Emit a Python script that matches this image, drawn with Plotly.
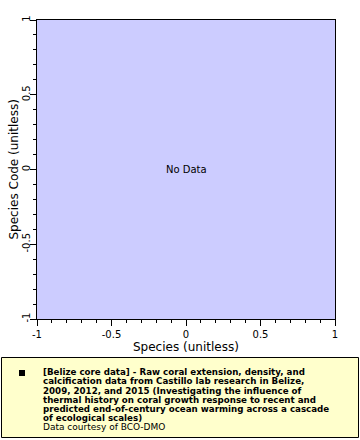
import plotly.graph_objects as go

x_range = [-1, 1]
y_range = [-1, 1]
tick_vals = [-1, -0.5, 0, 0.5, 1]
tick_text = ["-1", "-0.5", "0", "0.5", "1"]
x_title = "Species (unitless)"
y_title = "Species Code (unitless)"
no_data_text = "No Data"
legend_lines = [
    "[Belize core data] - Raw coral extension, density, and",
    "calcification data from Castillo lab research in Belize,",
    "2009, 2012, and 2015 (Investigating the influence of",
    "thermal history on coral growth response to recent and",
    "predicted end-of-century ocean warming across a cascade",
    "of ecological scales)",
]
credit = "Data courtesy of BCO-DMO"

W, H = 360, 440
L, R, T, B = 37, 25, 20, 121
pw, ph = W - L - R, H - T - B

def px(x):
    return (x - L) / pw

def py(y):
    return (H - B - y) / ph

fig = go.Figure()
fig.add_trace(go.Scatter(x=[None], y=[None], mode="markers", showlegend=False, hoverinfo="skip"))

axis_common = dict(
    range=[-1, 1], tickvals=tick_vals, ticktext=tick_text, ticks="outside",
    ticklen=6, tickwidth=1, tickcolor="black", showgrid=False, zeroline=False,
    showline=True, linecolor="black", linewidth=1, mirror=True, automargin=False,
    tickfont=dict(family="DejaVu Sans", size=10, color="black"),
    minor=dict(dtick=0.1, ticks="outside", ticklen=3, tickcolor="black", showgrid=False),
)
fig.update_xaxes(**axis_common)
fig.update_yaxes(**axis_common, tickangle=-90, ticklabelstandoff=-4)

title_font = dict(family="DejaVu Sans", size=12, color="black")
fig.add_annotation(xref="paper", yref="paper", x=px(186), y=py(347), text=x_title,
                   showarrow=False, xanchor="center", yanchor="middle", font=title_font)
fig.add_annotation(xref="paper", yref="paper", x=px(13), y=0.5, text=y_title,
                   showarrow=False, xanchor="center", yanchor="middle", textangle=-90, font=title_font)

fig.add_annotation(x=0, y=0, text=no_data_text, showarrow=False,
                   font=dict(family="DejaVu Sans", size=10, color="black"))

# legend box
fig.add_shape(type="rect", xref="paper", yref="paper",
              x0=px(1.5), x1=px(358.5), y0=py(437.5), y1=py(357.5),
              line=dict(color="black", width=1), fillcolor="#ffffcc", layer="below")
fig.add_shape(type="rect", xref="paper", yref="paper",
              x0=px(19), x1=px(25), y0=py(376), y1=py(370),
              line=dict(color="black", width=0), fillcolor="black")

y0 = 372
for i, line in enumerate(legend_lines):
    fig.add_annotation(xref="paper", yref="paper", x=px(41), y=py(y0 + i * 9.25),
                       text="<b>" + line + "</b>", showarrow=False, xanchor="left", yanchor="middle",
                       font=dict(family="DejaVu Sans", size=8.7, color="black"))
fig.add_annotation(xref="paper", yref="paper", x=px(41), y=py(y0 + 6 * 9.25),
                   text=credit, showarrow=False, xanchor="left", yanchor="middle",
                   font=dict(family="DejaVu Sans", size=9, color="black"))

fig.update_layout(
    width=W, height=H, margin=dict(l=L, r=R, t=T, b=B, pad=0),
    plot_bgcolor="#ccccff", paper_bgcolor="white", showlegend=False,
)
fig.write_html("out.html", config={"displayModeBar": False},
               post_script="document.body.style.margin='0';document.body.style.overflow='hidden';")
